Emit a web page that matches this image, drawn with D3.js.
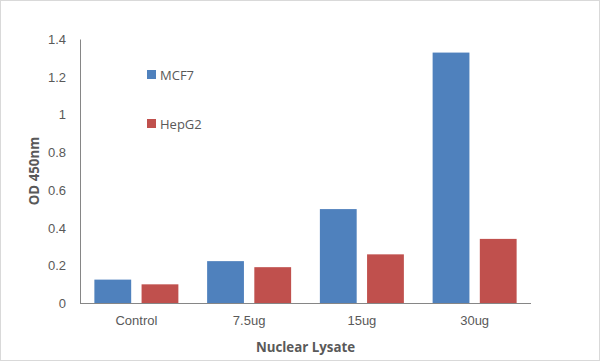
<!DOCTYPE html>
<html>

<head>
  <meta charset="utf-8">
  <title>OD 450nm</title>
  <style>
    body {
      margin: 0;
      background: white;
    }

    svg {
      display: block;
      font-family: "Open Sans", "Liberation Sans", sans-serif;
    }

    .tick text {
      fill: #595959;
      font-size: 13px;
    }
  </style>
</head>

<body>
  <svg></svg>
  <script src="https://cdnjs.cloudflare.com/ajax/libs/d3/7.8.5/d3.min.js"></script>
  <script>
    var categories = ["Control", "7.5ug", "15ug", "30ug"];
    var seriesNames = ["MCF7", "HepG2"];
    var mcf7 = [0.124, 0.222, 0.498, 1.328];
    var hepg2 = [0.099, 0.19, 0.258, 0.34];
    var yTicks = [0, 0.2, 0.4, 0.6, 0.8, 1, 1.2, 1.4];
    var colors = ["#4F81BD", "#C0504D"];

    var width = 600,
      height = 361;
    var margin = { left: 80, right: 69, top: 39, bottom: 58 };

    var svg = d3.select("svg").attr("width", width).attr("height", height);

    // outer chart border
    svg.append("rect")
      .attr("x", 0.5).attr("y", 0.5)
      .attr("width", width - 1).attr("height", height - 1)
      .attr("fill", "white")
      .attr("stroke", "#d9d9d9");

    var x0 = d3.scaleBand()
      .domain(categories)
      .range([margin.left, width - margin.right])
      .paddingInner(0.255)
      .paddingOuter(0.1275);
    var x1 = d3.scaleBand()
      .domain(seriesNames)
      .range([0, x0.bandwidth()])
      .paddingInner(0.22);
    var y = d3.scaleLinear()
      .domain([0, 1.4])
      .range([height - margin.bottom, margin.top]);

    var rows = categories.map(function (c, i) {
      return { cat: c, vals: [mcf7[i], hepg2[i]] };
    });

    var groups = svg.append("g").selectAll("g").data(rows)
      .enter()
      .append("g")
      .attr("transform", function (d) { return "translate(" + x0(d.cat) + ",0)" });

    groups.selectAll("rect")
      .data(function (d) { return d.vals.map(function (v, j) { return { s: seriesNames[j], v: v, j: j } }) })
      .enter()
      .append("rect")
      .attr("x", function (d) { return x1(d.s) })
      .attr("width", x1.bandwidth())
      .attr("y", function (d) { return y(d.v) })
      .attr("height", function (d) { return y(0) - y(d.v) })
      .attr("fill", function (d) { return colors[d.j] });

    // y axis
    var yAxis = svg.append("g")
      .attr("transform", "translate(" + margin.left + ",0)")
      .call(d3.axisLeft(y).tickValues(yTicks).tickSize(0).tickPadding(14).tickFormat(function (d) { return d3.format("")(+d.toFixed(1)) }));
    yAxis.select(".domain").attr("stroke", "#868686");
    yAxis.selectAll(".tick text").attr("dy", "0.35em");

    // x axis
    var xAxis = svg.append("g")
      .attr("transform", "translate(0," + y(0) + ")")
      .call(d3.axisBottom(x0).tickSize(0).tickPadding(13));
    xAxis.select(".domain").attr("stroke", "#868686").attr("d", "M" + margin.left + ",0.5H" + (width - margin.right));

    // axis titles
    svg.append("text")
      .attr("transform", "translate(39," + ((margin.top + y(0)) / 2) + ") rotate(-90)")
      .attr("text-anchor", "middle")
      .attr("fill", "#595959")
      .attr("font-size", "13.3px")
      .attr("font-weight", "bold")
      .text("OD 450nm");

    svg.append("text")
      .attr("x", 305.5)
      .attr("y", 352)
      .attr("text-anchor", "middle")
      .attr("fill", "#595959")
      .attr("font-size", "13.3px")
      .attr("font-weight", "bold")
      .text("Nuclear Lysate");

    // legend
    var legend = svg.append("g").selectAll("g").data(seriesNames)
      .enter()
      .append("g")
      .attr("transform", function (d, i) { return "translate(147," + (70 + i * 49) + ")" });
    legend.append("rect")
      .attr("width", 9).attr("height", 9)
      .attr("fill", function (d, i) { return colors[i] });
    legend.append("text")
      .attr("x", 13).attr("y", 9.5)
      .attr("fill", "#595959")
      .attr("font-size", "13px")
      .text(function (d) { return d });
  </script>
</body>

</html>
